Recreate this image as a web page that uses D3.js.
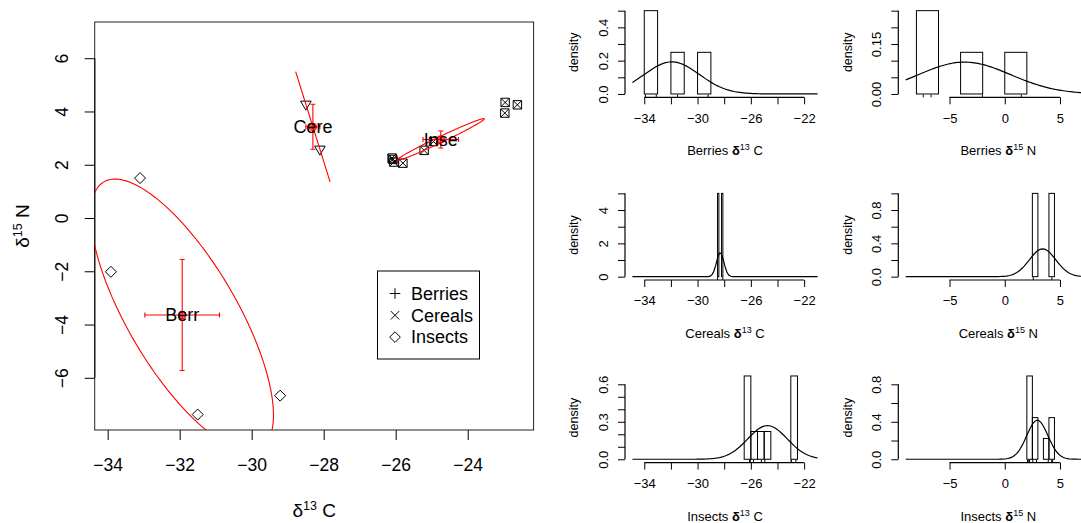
<!DOCTYPE html>
<html>
<head>
<meta charset="utf-8">
<script src="https://cdn.jsdelivr.net/npm/d3@7"></script>
<style>
  body { margin: 0; background: #fff; }
  svg text { font-family: "Liberation Sans", Arial, Helvetica, sans-serif; fill: #000; }
</style>
</head>
<body>
<div id="chart"></div>
<script>
var svgWidth = 1081;
var svgHeight = 523;

// Data
// ==============================
var groups = ["Berries", "Cereals", "Insects"];
var groupTags = ["Berr", "Cere", "Inse"];

var berriesC = [-33.10, -33.91, -31.50, -29.21];
var berriesN = [1.50, -2.02, -7.38, -6.67];
var cerealsC = [-28.495, -28.105];
var cerealsN = [4.27, 2.58];
var insectsC = [-26.10, -26.08, -26.05, -25.80, -25.21, -24.95, -22.96, -22.62, -22.97];
var insectsN = [2.25, 2.20, 2.10, 2.06, 2.54, 2.87, 4.34, 4.25, 3.94];

// histogram breaks
var berriesCBreaks = [-34, -33, -32, -31, -30, -29];
var berriesNBreaks = [-8, -6, -4, -2, 0, 2];
var cerealsCBreaks = [-28.5, -28.4, -28.3, -28.2, -28.1];
var cerealsNBreaks = [2.5, 3, 3.5, 4, 4.5];
var insectsCBreaks = [-26.5, -26, -25.5, -25, -24.5, -24, -23.5, -23, -22.5];
var insectsNBreaks = [2, 2.5, 3, 3.5, 4, 4.5];

// tick values and labelled ticks
var mainXTicks = [-34, -32, -30, -28, -26, -24];
var mainYTicks = [-6, -4, -2, 0, 2, 4, 6];
var histCTicks = [-34, -32, -30, -28, -26, -24, -22];
var histCLabels = [-34, -30, -26, -22];
var histNTicks = [-5, 0, 5];
var histNLabels = [-5, 0, 5];
var berriesCYTicks = [0, 0.1, 0.2, 0.3, 0.4, 0.5];
var berriesCYLabels = [0, 0.2, 0.4];
var berriesNYTicks = [0, 0.05, 0.1, 0.15, 0.2, 0.25];
var berriesNYLabels = [0, 0.15];
var cerealsCYTicks = [0, 1, 2, 3, 4, 5];
var cerealsCYLabels = [0, 2, 4];
var cerealsNYTicks = [0, 0.2, 0.4, 0.6, 0.8, 1.0];
var cerealsNYLabels = [0, 0.4, 0.8];
var insectsCYTicks = [0, 0.1, 0.2, 0.3, 0.4, 0.5, 0.6];
var insectsCYLabels = [0, 0.3, 0.6];
var insectsNYTicks = [0, 0.2, 0.4, 0.6, 0.8];
var insectsNYLabels = [0, 0.4, 0.8];

var chi2_95 = 5.991;  // 95% quantile, 2 df

var svg = d3.select("#chart")
    .append("svg")
    .attr("width", svgWidth)
    .attr("height", svgHeight);

var fontFam = '"Liberation Sans", Arial, Helvetica, sans-serif';

// helpers
function mean(a) { return d3.mean(a); }
function covar(a, b) {
    var ma = mean(a), mb = mean(b);
    return d3.sum(a, (v, i) => (v - ma) * (b[i] - mb)) / (a.length - 1);
}
function normPdf(x, m, s) {
    return Math.exp(-0.5 * ((x - m) / s) ** 2) / (s * Math.sqrt(2 * Math.PI));
}

function symbolPath(kind, s) {
    if (kind === "diamond") return `M0,${-s}L${s},0L0,${s}L${-s},0Z`;
    if (kind === "tri") return `M${-s},${-s * 0.6}L${s},${-s * 0.6}L0,${s * 1.1}Z`;
    if (kind === "boxx") return `M${-s},${-s}H${s}V${s}H${-s}ZM${-s},${-s}L${s},${s}M${s},${-s}L${-s},${s}`;
    if (kind === "plus") return `M${-s},0H${s}M0,${-s}V${s}`;
    if (kind === "times") return `M${-s},${-s}L${s},${s}M${s},${-s}L${-s},${s}`;
}

// Main biplot
// ==============================
var mainBox = { left: 94.7, right: 533.6, top: 22, bottom: 430 };

var xMain = d3.scaleLinear()
    .domain([-34.36, -22.17])
    .range([mainBox.left, mainBox.right]);

var yMain = d3.scaleLinear()
    .domain([-7.96, 7.36])
    .range([mainBox.bottom, mainBox.top]);

svg.append("clipPath")
    .attr("id", "mainClip")
    .append("rect")
    .attr("x", mainBox.left)
    .attr("y", mainBox.top)
    .attr("width", mainBox.right - mainBox.left)
    .attr("height", mainBox.bottom - mainBox.top);

var main = svg.append("g");

// axes
var xAxisMain = main.append("g")
    .attr("transform", `translate(0, ${mainBox.bottom})`)
    .call(d3.axisBottom(xMain).tickValues(mainXTicks).tickSize(10).tickPadding(19));
var yAxisMain = main.append("g")
    .attr("transform", `translate(${mainBox.left}, 0)`)
    .call(d3.axisLeft(yMain).tickValues(mainYTicks).tickSize(10));

[xAxisMain, yAxisMain].forEach(function(ax) {
    ax.select(".domain").remove();
    ax.attr("font-size", 17.5).attr("font-family", fontFam);
    ax.selectAll("line").attr("stroke", "#000");
});
yAxisMain.selectAll("text")
    .attr("x", null)
    .attr("dy", "0.35em")
    .attr("text-anchor", "middle")
    .attr("transform", "translate(-33,0) rotate(-90)");

yAxisMain.append("line")
    .attr("x1", 0).attr("x2", 0)
    .attr("y1", yMain(-6)).attr("y2", yMain(6))
    .attr("stroke", "#000").attr("stroke-width", 1.3);

main.append("rect")
    .attr("x", mainBox.left)
    .attr("y", mainBox.top)
    .attr("width", mainBox.right - mainBox.left)
    .attr("height", mainBox.bottom - mainBox.top)
    .attr("fill", "none")
    .attr("stroke", "#222")
    .attr("stroke-width", 1);

// axis titles
main.append("text")
    .attr("x", (mainBox.left + mainBox.right) / 2)
    .attr("y", 517)
    .attr("text-anchor", "middle")
    .attr("font-size", 19)
    .html('δ<tspan font-size="12.5" dy="-7">13</tspan><tspan dy="7"> C</tspan>');

main.append("text")
    .attr("transform", `translate(29, ${(mainBox.top + mainBox.bottom) / 2}) rotate(-90)`)
    .attr("text-anchor", "middle")
    .attr("font-size", 19)
    .html('δ<tspan font-size="12.5" dy="-7">15</tspan><tspan dy="7"> N</tspan>');

// group points, ellipses, error bars
var groupC = [berriesC, cerealsC, insectsC];
var groupN = [berriesN, cerealsN, insectsN];
var groupSymbols = ["diamond", "tri", "boxx"];
var groupSymSize = [5.5, 5.3, 4.2];

var plotArea = main.append("g").attr("clip-path", "url(#mainClip)");

groups.forEach(function(g, gi) {
    var cs = groupC[gi], ns = groupN[gi], n = cs.length;
    var mc = mean(cs), mn = mean(ns);
    var a = covar(cs, cs) / n, b = covar(cs, ns) / n, c = covar(ns, ns) / n;
    var l11 = Math.sqrt(a), l21 = b / l11, l22 = Math.sqrt(Math.max(0, c - l21 * l21));
    var k = Math.sqrt(chi2_95);
    var pts = d3.range(0, 361, 2).map(function(t) {
        var r = t * Math.PI / 180;
        return [mc + k * l11 * Math.cos(r), mn + k * (l21 * Math.cos(r) + l22 * Math.sin(r))];
    });

    // data points
    plotArea.selectAll(".pt" + gi)
        .data(cs)
        .enter()
        .append("path")
        .attr("transform", (d, i) => `translate(${xMain(d)}, ${yMain(ns[i])})`)
        .attr("d", symbolPath(groupSymbols[gi], groupSymSize[gi]))
        .attr("fill", "none")
        .attr("stroke", "#000")
        .attr("stroke-width", 1);

    plotArea.append("path")
        .datum(pts)
        .attr("d", d3.line().x(d => xMain(d[0])).y(d => yMain(d[1])))
        .attr("fill", "none")
        .attr("stroke", "red")
        .attr("stroke-width", 1.1);

    var seC = Math.sqrt(covar(cs, cs)) / Math.sqrt(n);
    var seN = Math.sqrt(covar(ns, ns)) / Math.sqrt(n);
    var eb = plotArea.append("g").attr("stroke", "red").attr("stroke-width", 1.1);
    eb.append("line")
        .attr("x1", xMain(mc - seC)).attr("x2", xMain(mc + seC))
        .attr("y1", yMain(mn)).attr("y2", yMain(mn));
    eb.append("line")
        .attr("x1", xMain(mc)).attr("x2", xMain(mc))
        .attr("y1", yMain(mn - seN)).attr("y2", yMain(mn + seN));
    [mc - seC, mc + seC].forEach(function(v) {
        eb.append("line")
            .attr("x1", xMain(v)).attr("x2", xMain(v))
            .attr("y1", yMain(mn) - 2.5).attr("y2", yMain(mn) + 2.5);
    });
    [mn - seN, mn + seN].forEach(function(v) {
        eb.append("line")
            .attr("x1", xMain(mc) - 2.5).attr("x2", xMain(mc) + 2.5)
            .attr("y1", yMain(v)).attr("y2", yMain(v));
    });
    plotArea.append("circle")
        .attr("cx", xMain(mc))
        .attr("cy", yMain(mn))
        .attr("r", 3.8)
        .attr("fill", "red")
        .attr("fill-opacity", 0.55)
        .attr("stroke", "red");

    plotArea.append("text")
        .attr("x", xMain(mc))
        .attr("y", yMain(mn))
        .attr("dy", "0.35em")
        .attr("text-anchor", "middle")
        .attr("font-size", 18)
        .text(groupTags[gi]);
});

// legend
var legend = main.append("g");
legend.append("rect")
    .attr("x", 377.5).attr("y", 271)
    .attr("width", 102).attr("height", 88)
    .attr("fill", "#fff")
    .attr("stroke", "#000");
var legendSymbols = ["plus", "times", "diamond"];
var legendSize = [5.3, 4.2, 5.3];
groups.forEach(function(g, i) {
    var ly = 293.5 + i * 21.8;
    legend.append("path")
        .attr("transform", `translate(395, ${ly})`)
        .attr("d", symbolPath(legendSymbols[i], legendSize[i]))
        .attr("fill", "none")
        .attr("stroke", "#000");
    legend.append("text")
        .attr("x", 411).attr("y", ly)
        .attr("dy", "0.35em")
        .attr("font-size", 18)
        .text(g);
});

// Histogram panels
// ==============================
var colRegion = [[625, 825], [898.3, 1098.3]];
var colDomain = [[-34.89, -20.99], [-8.97, 7.8]];
var rowAxisY = [97.3, 280, 462.6];
var histH = 83.3;

var panels = [
    { data: berriesC, breaks: berriesCBreaks, row: 0, col: 0, yTicks: berriesCYTicks, yLabels: berriesCYLabels, fmt: ".1f", name: "Berries", iso: "13", el: "C" },
    { data: berriesN, breaks: berriesNBreaks, row: 0, col: 1, yTicks: berriesNYTicks, yLabels: berriesNYLabels, fmt: ".2f", name: "Berries", iso: "15", el: "N" },
    { data: cerealsC, breaks: cerealsCBreaks, row: 1, col: 0, yTicks: cerealsCYTicks, yLabels: cerealsCYLabels, fmt: "d", name: "Cereals", iso: "13", el: "C" },
    { data: cerealsN, breaks: cerealsNBreaks, row: 1, col: 1, yTicks: cerealsNYTicks, yLabels: cerealsNYLabels, fmt: ".1f", name: "Cereals", iso: "15", el: "N" },
    { data: insectsC, breaks: insectsCBreaks, row: 2, col: 0, yTicks: insectsCYTicks, yLabels: insectsCYLabels, fmt: ".1f", name: "Insects", iso: "13", el: "C" },
    { data: insectsN, breaks: insectsNBreaks, row: 2, col: 1, yTicks: insectsNYTicks, yLabels: insectsNYLabels, fmt: ".1f", name: "Insects", iso: "15", el: "N" }
];

panels.forEach(function(p) {
    var reg = colRegion[p.col], dom = colDomain[p.col];
    var inset = (reg[1] - reg[0]) * 0.04 / 1.08;
    var axisY = rowAxisY[p.row];
    var n = p.data.length;

    // R style right-closed bins
    var bins = d3.range(p.breaks.length - 1).map(function(i) {
        var lo = p.breaks[i], hi = p.breaks[i + 1];
        var cnt = p.data.filter(v => (i === 0 ? v >= lo : v > lo) && v <= hi).length;
        return { x0: lo, x1: hi, density: cnt / (n * (hi - lo)) };
    });
    var ymax = d3.max(bins, d => d.density);

    var x = d3.scaleLinear().domain(dom).range([reg[0] + inset, reg[1] - inset]);
    var y = d3.scaleLinear().domain([0, ymax]).range([axisY - 3.33, axisY - 3.33 - histH]);

    var g = svg.append("g");

    g.selectAll("rect")
        .data(bins)
        .enter()
        .append("rect")
        .attr("x", d => x(d.x0))
        .attr("y", d => y(d.density))
        .attr("width", d => x(d.x1) - x(d.x0))
        .attr("height", d => y(0) - y(d.density))
        .attr("fill", "none")
        .attr("stroke", "#000")
        .attr("stroke-width", 1);

    var m = mean(p.data), s = Math.sqrt(covar(p.data, p.data));
    var curve = d3.range(101).map(i => dom[0] + (dom[1] - dom[0]) * i / 100);
    g.append("path")
        .datum(curve)
        .attr("d", d3.line().x(d => x(d)).y(d => y(normPdf(d, m, s))))
        .attr("fill", "none")
        .attr("stroke", "#000")
        .attr("stroke-width", 1.2);

    // rug
    g.selectAll(".rug")
        .data(p.data)
        .enter()
        .append("line")
        .attr("x1", d => x(d)).attr("x2", d => x(d))
        .attr("y1", axisY).attr("y2", axisY - 2.8)
        .attr("stroke", "#000");

    var xt = p.col === 0 ? histCTicks : histNTicks;
    var xl = p.col === 0 ? histCLabels : histNLabels;
    var xAx = g.append("g")
        .attr("transform", `translate(0, ${axisY})`)
        .call(d3.axisBottom(x).tickValues(xt).tickSize(7).tickPadding(9)
            .tickFormat(d => xl.indexOf(d) >= 0 ? d3.format("d")(d) : ""));
    var yAx = g.append("g")
        .attr("transform", `translate(${reg[0]}, 0)`)
        .call(d3.axisLeft(y).tickValues(p.yTicks).tickSize(7)
            .tickFormat(d => p.yLabels.indexOf(d) >= 0 ? d3.format(p.fmt)(d) : ""));

    [xAx, yAx].forEach(function(ax) {
        ax.select(".domain").remove();
        ax.attr("font-size", 13).attr("font-family", fontFam);
        ax.selectAll("line").attr("stroke", "#000");
    });
    xAx.append("line")
        .attr("x1", x(xt[0])).attr("x2", x(xt[xt.length - 1]))
        .attr("stroke", "#000").attr("stroke-width", 1.2);
    yAx.append("line")
        .attr("y1", y(p.yTicks[0])).attr("y2", y(p.yTicks[p.yTicks.length - 1]))
        .attr("stroke", "#000").attr("stroke-width", 1.2);
    yAx.selectAll("text")
        .attr("x", null)
        .attr("dy", "0.35em")
        .attr("text-anchor", "middle")
        .attr("transform", "translate(-21.5,0) rotate(-90)");

    g.append("text")
        .attr("transform", `translate(${reg[0] - 51}, ${axisY - 45}) rotate(-90)`)
        .attr("text-anchor", "middle")
        .attr("dy", "0.35em")
        .attr("font-size", 12.5)
        .text("density");

    g.append("text")
        .attr("x", (reg[0] + reg[1]) / 2)
        .attr("y", axisY + 58)
        .attr("text-anchor", "middle")
        .attr("font-size", 13)
        .html(`${p.name}  <tspan font-weight="bold">δ</tspan><tspan font-size="9" dy="-5">${p.iso}</tspan><tspan dy="5"> ${p.el}</tspan>`);
});
</script>
</body>
</html>
